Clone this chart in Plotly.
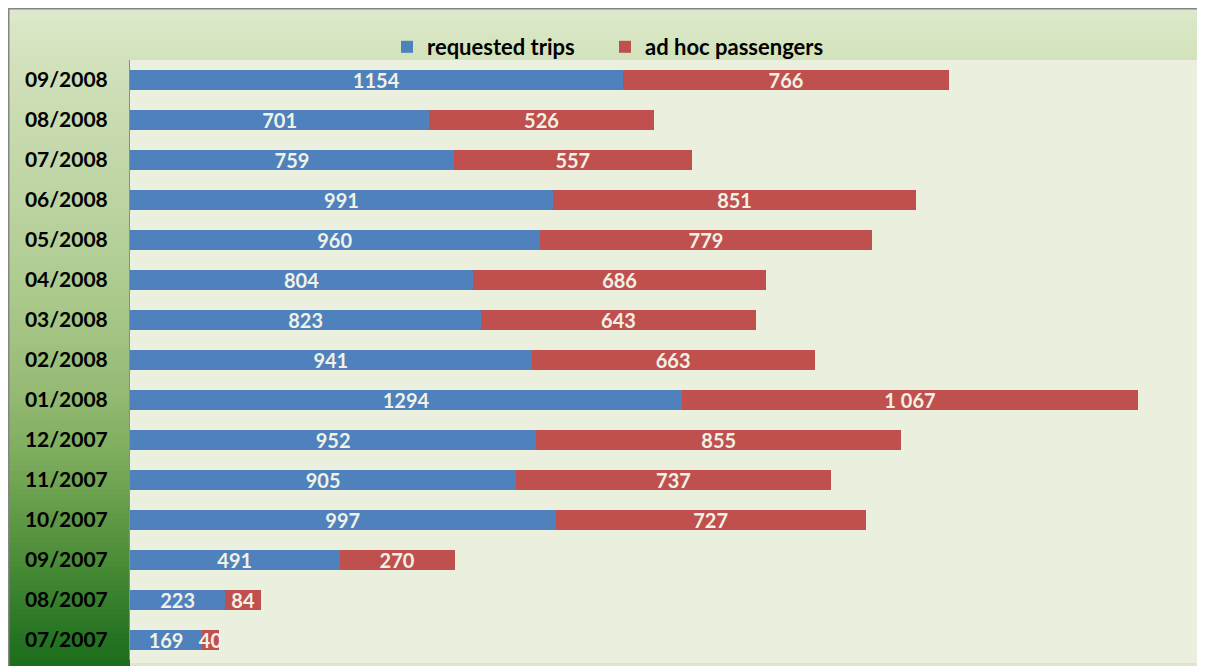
import plotly.graph_objects as go

# ---- data (bottom to top) ----
months = ["07/2007", "08/2007", "09/2007", "10/2007", "11/2007", "12/2007",
          "01/2008", "02/2008", "03/2008", "04/2008", "05/2008", "06/2008",
          "07/2008", "08/2008", "09/2008"]
requested_trips = [169, 223, 491, 997, 905, 952, 1294, 941, 823, 804, 960, 991, 759, 701, 1154]
ad_hoc_passengers = [40, 84, 270, 727, 737, 855, 1067, 663, 643, 686, 779, 851, 557, 526, 766]

series_names = ["requested trips", "ad hoc passengers"]

# figure is placed at page offset (8, 8) by the html body margin
OFF = 8
W, H = 1197, 658
L, T = 130 - OFF, 60 - OFF
PW, PH = 1067, 600
R = W - L - PW
B = H - T - PH


def px_x(p):  # page pixel -> paper
    return (p - OFF - L) / PW


def px_y(p):
    return (T + PH - (p - OFF)) / PH


def hexrgb(h):
    h = h.lstrip("#")
    return tuple(int(h[i:i + 2], 16) for i in (0, 2, 4))


stops = [(0, "#DFEACF"), (55, "#D3E3BD"), (100, "#CCDDB4"), (200, "#BDD4A2"),
         (300, "#AAC98B"), (380, "#98BC77"), (450, "#80AE5F"), (520, "#5F9846"),
         (580, "#418632"), (640, "#247322"), (680, "#1A6A18")]


def color_at(y):
    for (y0, c0), (y1, c1) in zip(stops[:-1], stops[1:]):
        if y0 <= y <= y1:
            t = (y - y0) / (y1 - y0)
            a, b = hexrgb(c0), hexrgb(c1)
            return "rgb(%d,%d,%d)" % tuple(round(a[i] + (b[i] - a[i]) * t) for i in range(3))
    return stops[-1][1]


shapes = []
step = 6
y = 9
while y < 680:
    shapes.append(dict(type="rect", xref="paper", yref="paper", layer="below",
                       x0=px_x(9), x1=px_x(1230), y0=px_y(y + step + 1), y1=px_y(y),
                       fillcolor=color_at(y + step / 2), line=dict(width=0)))
    y += step
# plot area (extends to bottom edge as in the original)
shapes.append(dict(type="rect", xref="paper", yref="paper", layer="below",
                   x0=0, x1=1, y0=px_y(680), y1=1, fillcolor="#EBEFDE", line=dict(width=0)))
shapes.append(dict(type="rect", xref="paper", yref="paper", layer="below",
                   x0=0, x1=1, y0=px_y(680), y1=px_y(663), fillcolor="#DDE5D0", line=dict(width=0)))
# outer frame
shapes.append(dict(type="rect", xref="paper", yref="paper", layer="above",
                   x0=px_x(8.5), x1=px_x(1250), y0=px_y(720), y1=px_y(8.5),
                   fillcolor="rgba(0,0,0,0)", line=dict(color="#858585", width=2)))

label_font = dict(family="Lato", size=20, color="#F1F2E6", weight="bold")
legend_font = dict(family="Lato", size=22, color="black", weight="bold")

fig = go.Figure()
fig.add_trace(go.Bar(
    y=months, x=requested_trips, orientation="h", name=series_names[0],
    marker=dict(color="#4F81BD", line=dict(width=0)),
    text=[str(v) for v in requested_trips], textposition="inside",
    insidetextanchor="middle", textangle=0, insidetextfont=label_font,
    constraintext="none", hoverinfo="skip", legend="legend", showlegend=True,
))
fig.add_trace(go.Bar(
    y=months, x=ad_hoc_passengers, orientation="h", name=series_names[1],
    marker=dict(color="#C0504D", line=dict(width=0)),
    text=[f"{v:,}".replace(",", " ") for v in ad_hoc_passengers], textposition="inside",
    insidetextanchor="middle", textangle=0, insidetextfont=label_font,
    constraintext="none", hoverinfo="skip", legend="legend2", showlegend=True,
))

fig.update_layout(
    width=W, height=H, showlegend=True,
    margin=dict(l=L, r=R, t=T, b=B, pad=0),
    barmode="stack", bargap=0.5,
    paper_bgcolor="white", plot_bgcolor="rgba(0,0,0,0)",
    shapes=shapes,
    legend=dict(orientation="h", x=px_x(387), xanchor="left", y=px_y(47), yanchor="middle",
                font=legend_font, bgcolor="rgba(0,0,0,0)", borderwidth=0, visible=True),
    legend2=dict(orientation="h", x=px_x(605), xanchor="left", y=px_y(47), yanchor="middle",
                 font=legend_font, bgcolor="rgba(0,0,0,0)", borderwidth=0, visible=True),
    xaxis=dict(range=[0, 2500], showticklabels=False, showgrid=False, zeroline=False,
               showline=False, fixedrange=True, automargin=False),
    yaxis=dict(categoryorder="array", categoryarray=months, showgrid=False, zeroline=False,
               showline=True, linecolor="#8C8C8C", linewidth=1, ticks="",
               ticklabelstandoff=17, automargin=False,
               tickfont=dict(family="Lato", size=21, color="black", weight="bold")),
    font=dict(family="Lato"),
)
fig.update_traces(cliponaxis=False)

fig.write_html("out.html")
